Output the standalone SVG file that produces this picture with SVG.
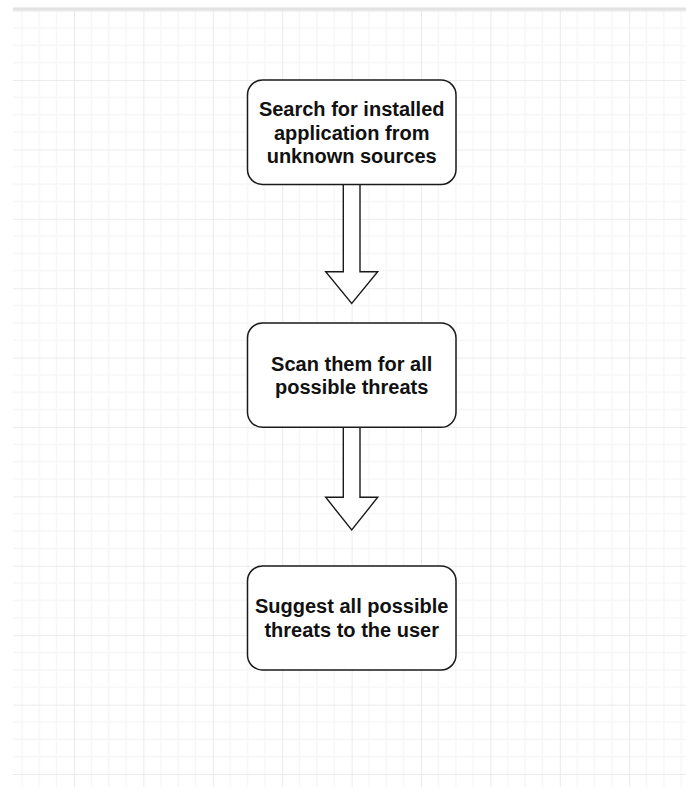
<svg xmlns="http://www.w3.org/2000/svg" width="686" height="787" viewBox="0 0 686 787">
<style>
.box{fill:#fff;stroke:#1a1a1a;stroke-width:1.5}
.arrow{fill:#fff;stroke:#1a1a1a;stroke-width:1.4;stroke-linejoin:miter}
.lbl{font-family:"Liberation Sans",Arial,sans-serif;font-weight:bold;font-size:20px;fill:#111;text-anchor:middle}
</style>
<defs>
<pattern id="grid" patternUnits="userSpaceOnUse" x="74" y="80" width="69.4" height="69.4">
<g stroke="#f6f6f6" stroke-width="1.5">
<line x1="17.35" y1="0" x2="17.35" y2="69.4"/>
<line x1="34.7" y1="0" x2="34.7" y2="69.4"/>
<line x1="52.05" y1="0" x2="52.05" y2="69.4"/>
<line x1="0" y1="17.35" x2="69.4" y2="17.35"/>
<line x1="0" y1="34.7" x2="69.4" y2="34.7"/>
<line x1="0" y1="52.05" x2="69.4" y2="52.05"/>
</g>
<g stroke="#e5e5e5" stroke-width="1.6">
<line x1="0" y1="0" x2="0" y2="69.4"/>
<line x1="0" y1="0" x2="69.4" y2="0"/>
</g>
</pattern>
</defs>
<rect width="686" height="787" fill="#fff"/>
<rect x="13" y="10" width="673" height="777" fill="url(#grid)"/>
<rect x="13" y="7.5" width="673" height="3" fill="#e2e2e2"/>
<g id="connectors">
<path class="arrow" d="M343.3,184.5 V271.7 H325.7 L351.7,303.5 L377.7,271.7 H360 V184.5"/>
<path class="arrow" d="M343.3,427.3 V497.3 H325.7 L351.7,530 L377.7,497.3 H360 V427.3"/>
</g>
<g id="node1">
<rect class="box" x="247.5" y="80" width="208.5" height="104.5" rx="15" ry="15"/>
<text class="lbl" x="351.7" y="115.7">Search for installed</text>
<text class="lbl" x="351.7" y="139.5">application from</text>
<text class="lbl" x="351.7" y="163.3">unknown sources</text>
</g>
<g id="node2">
<rect class="box" x="247.5" y="323" width="208.5" height="104.3" rx="15" ry="15"/>
<text class="lbl" x="351.7" y="370.5">Scan them for all</text>
<text class="lbl" x="351.7" y="394">possible threats</text>
</g>
<g id="node3">
<rect class="box" x="247.5" y="566" width="208.5" height="104" rx="15" ry="15"/>
<text class="lbl" x="351.7" y="613.3">Suggest all possible</text>
<text class="lbl" x="351.7" y="637.3">threats to the user</text>
</g>
</svg>
